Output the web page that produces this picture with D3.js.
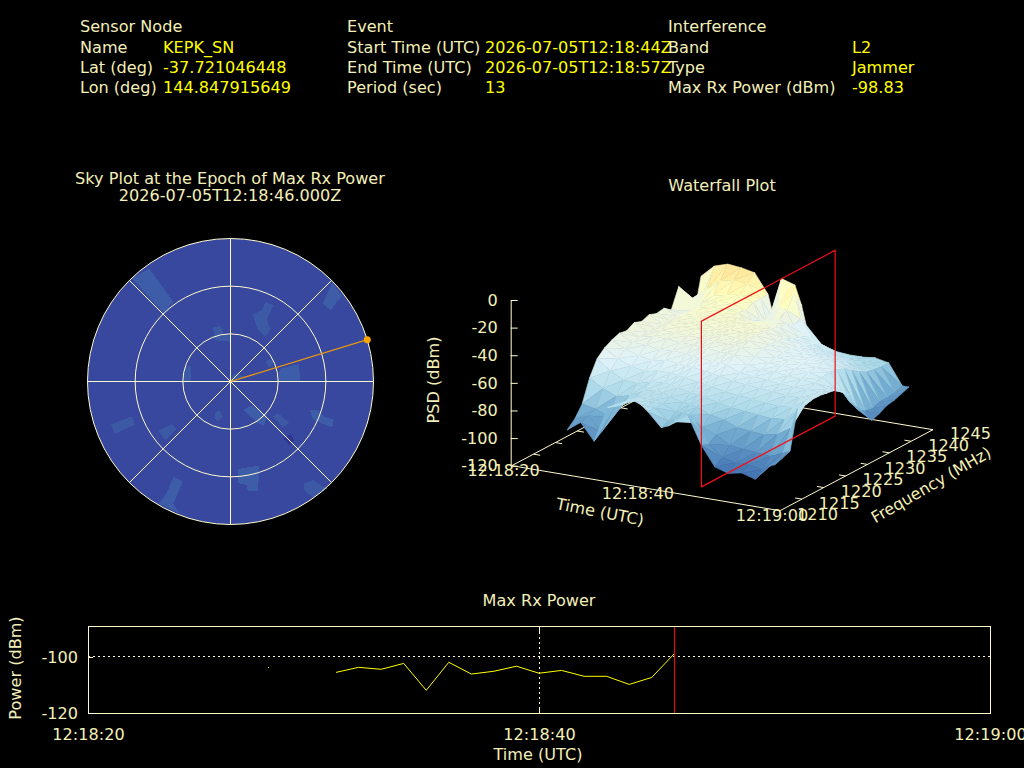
<!DOCTYPE html>
<html>
<head>
<meta charset="utf-8">
<title>Interference report</title>
<script src="https://cdn.jsdelivr.net/npm/d3@7"></script>
<style>
  html, body { margin: 0; background: #000; overflow: hidden; }
  text { font-family: "DejaVu Sans", sans-serif; font-size: 16.1px; fill: #f3efb8; }
  .val { fill: #ffff00; }
</style>
</head>
<body>
<script>
// header blocks
const nodeRows = [["Name", "KEPK_SN"], ["Lat (deg)", "-37.721046448"], ["Lon (deg)", "144.847915649"]];
const eventRows = [["Start Time (UTC)", "2026-07-05T12:18:44Z"], ["End Time (UTC)", "2026-07-05T12:18:57Z"], ["Period (sec)", "13"]];
const interfRows = [["Band", "L2"], ["Type", "Jammer"], ["Max Rx Power (dBm)", "-98.83"]];

// max rx power time series (seconds after 12:18:00)
const powerTimes = [31, 32, 33, 34, 35, 36, 37, 38, 39, 40, 41, 42, 43, 44, 45, 46];
const powerValues = [-105.5, -103.7, -104.4, -102.3, -111.9, -101.9, -106.1, -105.1, -103.3, -105.8, -104.8, -106.9, -106.9, -109.8, -107.3, -98.83];
const loneTime = 28;
const lonePower = -103.7;
const maxEpoch = 46;

// sky plot, jammer direction
const jammerAz = 73;
const jammerEl = 0;
const skyBackground = -119;
// sky patches: dBm and corners as east/north angle from zenith (deg)
const skyPatchValues = [-113, -113, -114, -114, -114, -113, -114, -114, -113, -114, -113, -126, -114, -114, -114, -113, -113, -114];
const skyPatches = [
  [[-51, 71], [-36, 50], [-42, 43], [-62, 65]],
  [[64, 62], [70, 54], [63, 45], [58, 49]],
  [[22, 50], [27, 48], [23, 39], [25, 33], [22, 28], [17, 33], [14, 42], [20, 45]],
  [[-11, 34], [-6, 35], [-4, 29], [0, 29], [0, 25], [-10, 26]],
  [[22, 13], [26, 14], [27, 11], [24, 9]],
  [[31, 8], [43, 11], [44, 0], [30, 0]],
  [[0, 0], [2, 5], [9, 3]],
  [[-29, 9], [-25, 10], [-25, 0], [-29, 0]],
  [[8, -18], [13, -15], [23, -22], [21, -28], [17, -26]],
  [[27, -22], [30, -20], [37, -26], [33, -29]],
  [[50, -18], [55, -18], [59, -22], [65, -24], [64, -29], [52, -24]],
  [[33, -36], [38, -33], [40, -37], [37, -40]],
  [[-10, -20], [-7, -18], [-5, -22], [-8, -25], [-10, -23]],
  [[-75, -27], [-62, -22], [-60, -27], [-73, -33]],
  [[-45, -31], [-37, -27], [-34, -30], [-41, -37]],
  [[5, -55], [18, -53], [18, -59], [17, -69], [11, -69], [10, -65], [5, -64]],
  [[-36, -60], [-30, -63], [-36, -77], [-32, -83], [-45, -77], [-40, -70]],
  [[46, -64], [52, -62], [58, -66], [61, -67], [52, -73], [46, -68]]
];

// waterfall: psdRows[time][freq] in dBm
const wfTimes = [26, 28, 30, 32, 34, 36, 37, 38, 40, 41, 42, 44, 46, 48, 50, 52, 54, 56, 57];
const wfFreqs = [1213.5, 1215.2, 1216.9, 1218.6, 1220.3, 1222, 1223.7, 1225.4, 1227.1, 1228.8, 1230.5, 1232.2, 1233.9, 1235.6, 1237.3, 1239, 1240.7, 1242.4, 1244.1];
const psdRows = [
  [-95, -90, -82, -66, -55, -50, -47, -45, -46, -43, -45, -43, -45, -44, -48, -34, -48, -62, -35],
  [-88, -86, -84, -72, -62, -56, -52, -50, -49, -48, -48, -48, -48, -48, -50, -50, -48, -40, -26],
  [-100, -96, -88, -76, -67, -60, -55, -50, -47, -45, -44, -44, -43, -43, -43, -42, -40, -32, -23],
  [-74, -76, -78, -74, -68, -62, -57, -52, -47, -45, -44, -44, -43, -42, -41, -40, -38, -30, -24],
  [-70, -70, -71, -69, -65, -60, -55, -51, -48, -46, -44, -44, -43, -42, -41, -40, -36, -31, -26],
  [-66, -67, -68, -67, -64, -60, -56, -52, -48, -46, -44, -44, -43, -42, -42, -43, -40, -40, -40],
  [-68, -69, -70, -68, -65, -61, -57, -53, -49, -46, -45, -44, -43, -43, -46, -50, -52, -58, -59],
  [-72, -72, -72, -70, -66, -62, -57, -53, -49, -47, -45, -44, -43, -44, -47, -52, -54, -60, -27],
  [-82, -80, -76, -72, -68, -63, -58, -54, -50, -47, -45, -44, -43, -43, -45, -50, -40, -30, -30],
  [-80, -79, -76, -73, -69, -64, -59, -54, -50, -47, -46, -44, -43, -43, -45, -46, -42, -32, -44],
  [-76, -77, -77, -74, -70, -65, -60, -55, -51, -48, -46, -45, -45, -46, -47, -48, -52, -50, -64],
  [-70, -78, -84, -78, -72, -67, -62, -59, -56, -53, -50, -50, -50, -51, -54, -56, -58, -66, -70],
  [-90, -92, -88, -80, -74, -68, -63, -60, -58, -56, -55, -54, -54, -56, -58, -60, -62, -70, -73],
  [-104, -100, -94, -84, -75, -69, -64, -61, -58, -56, -55, -55, -56, -58, -60, -63, -66, -71, -74],
  [-107, -102, -95, -85, -76, -70, -65, -62, -59, -57, -56, -56, -58, -60, -62, -66, -70, -72, -74],
  [-105, -102, -96, -86, -77, -71, -66, -63, -60, -58, -57, -57, -59, -61, -64, -68, -71, -73, -73],
  [-108, -104, -97, -84, -76, -70, -66, -63, -61, -60, -59, -60, -62, -66, -70, -73, -74, -75, -75],
  [-97, -96, -93, -78, -68, -64, -63, -63, -64, -66, -72, -82, -90, -94, -95, -93, -93, -92, -90],
  [-95, -93, -91, -63, -63, -62, -62, -63, -64, -68, -73, -84, -92, -100, -98, -95, -94, -92, -90]
];

// axis ticks
const timeTicks = [20, 40, 60];
const freqTicks = [1210, 1215, 1220, 1225, 1230, 1235, 1240, 1245];
const psdTicks = [0, -20, -40, -60, -80, -100, -120];
const powerTicks = [-100, -120];
const elevationRings = [60, 30, 0];
const spokeAzimuths = [0, 45, 90, 135, 180, 225, 270, 315];

const fg = "#fffacd";
const textFill = "#f3efb8";
const fmtTime = s => "12:" + (s >= 60 ? "19:" + String(s - 60).padStart(2, "0") : "18:" + String(s).padStart(2, "0"));

const svg = d3.select("body").append("svg")
  .attr("width", 1024)
  .attr("height", 768)
  .attr("viewBox", "0 0 1024 768")
  .style("display", "block");

// shared colour scale, RdYlBu reversed
const colour = d3.scaleLinear()
  .domain([-124, -106, -86, -74, -56, -47, -38, -22, -8])
  .range(["#313695", "#4575b4", "#74add1", "#abd9e9", "#e0f3f8", "#ecf4e4", "#ffffbf", "#fee090", "#fdae61"])
  .clamp(true);

function label(x, y, str, anchor, cls) {
  return svg.append("text")
    .attr("x", x).attr("y", y)
    .attr("text-anchor", anchor || "start")
    .attr("dominant-baseline", "central")
    .attr("class", cls || null)
    .text(str);
}

// === Header ===
label(80, 26.5, "Sensor Node");
label(347, 26.5, "Event");
label(668, 26.5, "Interference");
function block(rows, x1, x2) {
  rows.forEach((r, i) => {
    label(x1, 47 + i * 20, r[0]);
    label(x2, 47 + i * 20, r[1], "start", "val");
  });
}
block(nodeRows, 80, 163);
block(eventRows, 347, 485);
block(interfRows, 668, 852);

// === Sky plot ===
label(230, 178, "Sky Plot at the Epoch of Max Rx Power", "middle");
label(230, 195, "2026-07-05T12:18:46.000Z", "middle");

const skyCx = 230.5, skyCy = 381.5;
const rScale = d3.scaleLinear().domain([90, 0]).range([0, 143]);
const skyX = d3.scaleLinear().domain([-90, 90]).range([skyCx - 143, skyCx + 143]);
const skyY = d3.scaleLinear().domain([-90, 90]).range([skyCy + 143, skyCy - 143]);
const polar = (az, el) => {
  const a = az * Math.PI / 180, r = rScale(el);
  return [skyCx + r * Math.sin(a), skyCy - r * Math.cos(a)];
};

svg.append("circle")
  .attr("cx", skyCx).attr("cy", skyCy).attr("r", rScale(0))
  .attr("fill", colour(skyBackground));

svg.append("g").selectAll("polygon")
  .data(skyPatches)
  .join("polygon")
  .attr("points", p => p.map(c => [skyX(c[0]), skyY(c[1])].join(",")).join(" "))
  .attr("fill", (p, i) => colour(skyPatchValues[i]))
  .attr("shape-rendering", "crispEdges");

svg.append("g").selectAll("circle")
  .data(elevationRings)
  .join("circle")
  .attr("cx", skyCx).attr("cy", skyCy)
  .attr("r", d => rScale(d))
  .attr("fill", "none")
  .attr("stroke", fg);

svg.append("g").selectAll("line")
  .data(spokeAzimuths)
  .join("line")
  .attr("x1", skyCx).attr("y1", skyCy)
  .attr("x2", d => polar(d, 0)[0])
  .attr("y2", d => polar(d, 0)[1])
  .attr("stroke", fg);

const jam = polar(jammerAz, jammerEl);
svg.append("line")
  .attr("x1", skyCx).attr("y1", skyCy)
  .attr("x2", jam[0]).attr("y2", jam[1])
  .attr("stroke", "#e8950f")
  .attr("stroke-width", 1.3);
svg.append("circle")
  .attr("cx", jam[0]).attr("cy", jam[1]).attr("r", 3.5)
  .attr("fill", "#ffa500");

// === Waterfall ===
label(722, 185, "Waterfall Plot", "middle");

// oblique projection built from three linear scales
const txX = d3.scaleLinear().domain([20, 60]).range([511.7, 780]);
const txY = d3.scaleLinear().domain([20, 60]).range([0, 45]);
const fxX = d3.scaleLinear().domain([1210, 1245]).range([0, 153]);
const fxY = d3.scaleLinear().domain([1210, 1245]).range([0, -81]);
const zY = d3.scaleLinear().domain([-120, 0]).range([465.7, 300]);
const proj = (t, f, z) => [txX(t) + fxX(f), txY(t) + fxY(f) + zY(z)];
const lineGen = d3.line();

// floor outline
svg.append("path")
  .attr("d", lineGen([proj(20, 1210, -120), proj(60, 1210, -120), proj(60, 1245, -120), proj(20, 1245, -120)]) + "Z")
  .attr("fill", "none")
  .attr("stroke", fg);

// frequency ticks on both long sides of the floor
svg.append("g").selectAll("path")
  .data(freqTicks.slice(1, -1))
  .join("path")
  .attr("d", f => lineGen([proj(20, f, -120), proj(21, f, -120)]) + lineGen([proj(60, f, -120), proj(59, f, -120)]))
  .attr("stroke", fg)
  .attr("fill", "none");

// surface facets, painted far to near (early time, high frequency first)
const facets = [];
for (let i = 0; i < wfTimes.length - 1; i++) {
  for (let j = wfFreqs.length - 2; j >= 0; j--) {
    const a = [wfTimes[i], wfFreqs[j], psdRows[i][j]];
    const b = [wfTimes[i], wfFreqs[j + 1], psdRows[i][j + 1]];
    const c = [wfTimes[i + 1], wfFreqs[j + 1], psdRows[i + 1][j + 1]];
    const d = [wfTimes[i + 1], wfFreqs[j], psdRows[i + 1][j]];
    facets.push([a, b, c], [a, c, d]);
  }
}
svg.append("g").selectAll("polygon")
  .data(facets)
  .join("polygon")
  .attr("points", q => q.map(p => proj(p[0], p[1], p[2]).join(",")).join(" "))
  .attr("fill", q => colour(d3.mean(q, p => p[2])))
  .attr("stroke", q => colour(d3.mean(q, p => p[2])))
  .attr("stroke-width", 0.6);

// red plane at the epoch of max power
svg.append("path")
  .attr("d", lineGen([
    proj(maxEpoch, wfFreqs[0], -120), proj(maxEpoch, wfFreqs[wfFreqs.length - 1], -120),
    proj(maxEpoch, wfFreqs[wfFreqs.length - 1], 0), proj(maxEpoch, wfFreqs[0], 0)
  ]) + "Z")
  .attr("fill", "none")
  .attr("stroke", "#f00f14")
  .attr("stroke-width", 1.2);

// vertical PSD axis
const plainInt = d => String(d);
const zAxis = svg.append("g")
  .attr("transform", "translate(510.7,0)")
  .call(d3.axisLeft(zY).tickValues(psdTicks).tickFormat(plainInt).tickSizeInner(-7).tickSizeOuter(0).tickPadding(13));
zAxis.selectAll("line, path").attr("stroke", fg);
zAxis.selectAll("text").style("font-size", "16.1px").style("font-family", "DejaVu Sans").style("fill", textFill);

// time and frequency tick labels
timeTicks.forEach(t => {
  const p = proj(t, 1210, -120);
  label(p[0] - 8, p[1] + 5, fmtTime(t), "middle");
});
freqTicks.forEach(f => {
  const p = proj(60, f, -120);
  label(p[0] + 17, p[1] + 4, String(f));
});

label(433, 380, "PSD (dBm)", "middle")
  .attr("transform", "rotate(-90,433,380)");
label(600, 512, "Time (UTC)", "middle")
  .attr("transform", "rotate(11,600,512)");
label(931, 485, "Frequency (MHz)", "middle")
  .attr("transform", "rotate(-30,931,485)");

// === Max Rx Power strip ===
label(539, 600, "Max Rx Power", "middle");

const xTime = d3.scaleLinear().domain([20, 60]).range([88, 990]);
const yPower = d3.scaleLinear().domain([-120, -89.3]).range([713, 627]);
const crisp = v => Math.floor(v) + 0.5;

svg.append("rect")
  .attr("x", 88.5).attr("y", 626.5).attr("width", 902).attr("height", 87)
  .attr("fill", "none")
  .attr("stroke", fg);

// dotted grid at the labelled ticks
svg.append("line")
  .attr("x1", 88).attr("x2", 990)
  .attr("y1", crisp(yPower(-100))).attr("y2", crisp(yPower(-100)))
  .attr("stroke", fg).attr("stroke-dasharray", "2,3");
svg.append("line")
  .attr("x1", crisp(xTime(40))).attr("x2", crisp(xTime(40)))
  .attr("y1", 627).attr("y2", 713)
  .attr("stroke", fg).attr("stroke-dasharray", "2,3");

// tick marks and labels
const xAxis = svg.append("g")
  .attr("transform", "translate(0,713)")
  .call(d3.axisBottom(xTime).tickValues(timeTicks).tickFormat(fmtTime).tickSizeInner(-5).tickSizeOuter(0).tickPadding(16));
const yAxis = svg.append("g")
  .attr("transform", "translate(88,0)")
  .call(d3.axisLeft(yPower).tickValues(powerTicks).tickFormat(plainInt).tickSizeInner(-5).tickSizeOuter(0).tickPadding(10));
[xAxis, yAxis].forEach(a => {
  a.select(".domain").remove();
  a.selectAll("line").attr("stroke", fg);
  a.selectAll("text").style("font-size", "16.1px").style("font-family", "DejaVu Sans").style("fill", textFill);
});
svg.append("line")
  .attr("x1", crisp(xTime(40))).attr("x2", crisp(xTime(40)))
  .attr("y1", 627).attr("y2", 632)
  .attr("stroke", fg);

svg.append("path")
  .datum(d3.zip(powerTimes, powerValues))
  .attr("d", d3.line().x(d => xTime(d[0])).y(d => yPower(d[1])))
  .attr("fill", "none")
  .attr("stroke", "#ffff00");
svg.append("rect")
  .attr("x", Math.floor(xTime(loneTime))).attr("y", Math.floor(yPower(lonePower)))
  .attr("width", 1).attr("height", 1)
  .attr("fill", "#ffff00");
svg.append("line")
  .attr("x1", crisp(xTime(maxEpoch))).attr("x2", crisp(xTime(maxEpoch)))
  .attr("y1", 627).attr("y2", 713)
  .attr("stroke", "#ff0000");

label(538, 754, "Time (UTC)", "middle");
label(15, 668, "Power (dBm)", "middle")
  .attr("transform", "rotate(-90,15,668)");
</script>
</body>
</html>
